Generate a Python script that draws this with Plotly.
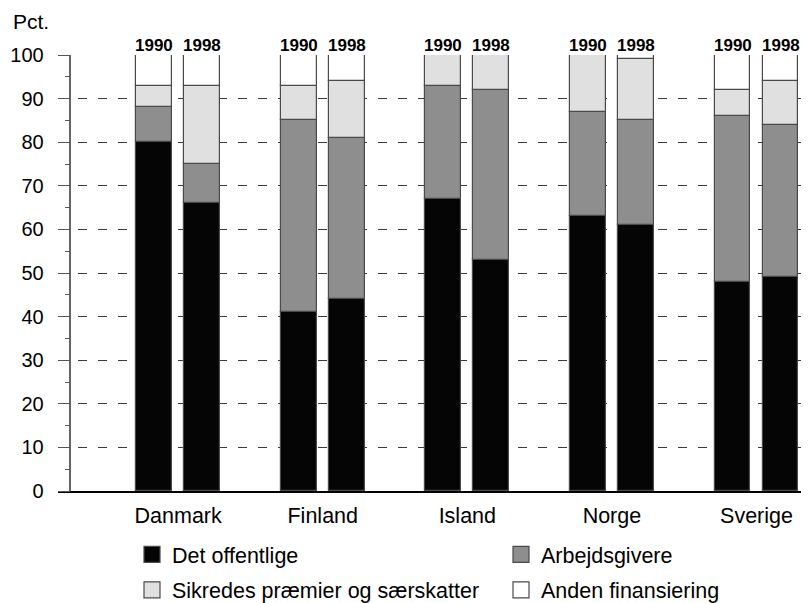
import plotly.graph_objects as go

countries = ["Danmark", "Finland", "Island", "Norge", "Sverige"]
years = ["1990", "1998"]

# values per country: [1990, 1998]
det_offentlige = {"Danmark": [80, 66], "Finland": [41, 44], "Island": [67, 53], "Norge": [63, 61], "Sverige": [48, 49]}
arbejdsgivere = {"Danmark": [8, 9], "Finland": [44, 37], "Island": [26, 39], "Norge": [24, 24], "Sverige": [38, 35]}
sikredes = {"Danmark": [5, 18], "Finland": [8, 13], "Island": [7, 8], "Norge": [13, 14], "Sverige": [6, 10]}
anden = {"Danmark": [7, 7], "Finland": [7, 6], "Island": [0, 0], "Norge": [0, 1], "Sverige": [8, 6]}

series = [
    ("Det offentlige", det_offentlige, "#050505"),
    ("Arbejdsgivere", arbejdsgivere, "#8e8e8e"),
    ("Sikredes præmier og særskatter", sikredes, "#e0e0e0"),
    ("Anden finansiering", anden, "#ffffff"),
]

offset = 0.166
bar_w = 0.247
font_family = "Liberation Sans, Arial, Helvetica, sans-serif"

# page body has a default 8px margin; size the figure to fill the rest of the window
PAGE_M = 8
FIG_W, FIG_H = 809 - PAGE_M, 603 - PAGE_M

fig = go.Figure()
for name, vals, color in series:
    xs, ys = [], []
    for i, c in enumerate(countries):
        for j, _ in enumerate(years):
            xs.append(i + (offset if j else -offset))
            ys.append(vals[c][j])
    fig.add_trace(go.Bar(
        x=xs, y=ys, width=bar_w, name=name, showlegend=False,
        marker=dict(color=color, line=dict(color="#4a4a4a", width=1.2)),
        hoverinfo="y+name",
    ))

# legend entries (two rows)
for k, (name, vals, color) in enumerate(series):
    fig.add_trace(go.Scatter(
        x=[None], y=[None], mode="markers", name=name,
        marker=dict(symbol="square", size=20, color=color, line=dict(color="#4a4a4a", width=1.2)),
        legend="legend" if k < 2 else "legend2",
    ))

for i, c in enumerate(countries):
    for j, yr in enumerate(years):
        fig.add_annotation(
            x=i + (offset if j else -offset), y=100, xref="x", yref="y",
            text=f"<b>{yr}</b>", showarrow=False, yanchor="bottom",
            font=dict(size=17, color="#000", family=font_family), yshift=-2,
        )

fig.add_annotation(
    x=-0.063, y=1.077, xref="paper", yref="paper", text="Pct.",
    showarrow=False, xanchor="left", yanchor="middle",
    font=dict(size=21, color="#000", family=font_family),
)

legend_common = dict(
    orientation="h", entrywidth=324, entrywidthmode="pixels",
    font=dict(size=21.5, color="#000", family=font_family),
    bgcolor="rgba(0,0,0,0)", borderwidth=0, xanchor="left", yanchor="middle",
    itemsizing="trace", xref="container", yref="container",
)

fig.update_layout(
    width=FIG_W, height=FIG_H,
    margin=dict(l=58 - PAGE_M, r=0, t=54.5 - PAGE_M, b=112, pad=0),
    paper_bgcolor="white", plot_bgcolor="white",
    barmode="relative", bargap=0,
    font=dict(family=font_family, size=20, color="#000"),
    showlegend=True,
    legend=dict(x=(132 - PAGE_M) / FIG_W, y=1 - (554.5 - PAGE_M) / FIG_H, **legend_common),
    legend2=dict(x=(132 - PAGE_M) / FIG_W, y=1 - (590 - PAGE_M) / FIG_H, **legend_common),
    xaxis=dict(
        range=[-0.831, 4.363], tickvals=list(range(len(countries))), ticktext=countries,
        showgrid=False, zeroline=False, showline=True, linecolor="#000", linewidth=1.5,
        ticks="", tickfont=dict(size=21.5), ticklabelstandoff=4, fixedrange=True,
        automargin=False,
    ),
    yaxis=dict(
        range=[0, 100], tickvals=list(range(0, 101, 10)), anchor="free", position=0.0166,
        showgrid=True, gridcolor="#3a3a3a", gridwidth=1, griddash="9px,11px",
        zeroline=False, showline=True, linecolor="#666", linewidth=1.5,
        ticks="outside", ticklen=12, tickcolor="#555", tickwidth=1,
        minor=dict(dtick=5, ticks="outside", ticklen=5, tickcolor="#555", showgrid=False),
        tickfont=dict(size=20), ticklabelstandoff=10, fixedrange=True,
        automargin=False,
    ),
)

fig.write_html("out.html")
